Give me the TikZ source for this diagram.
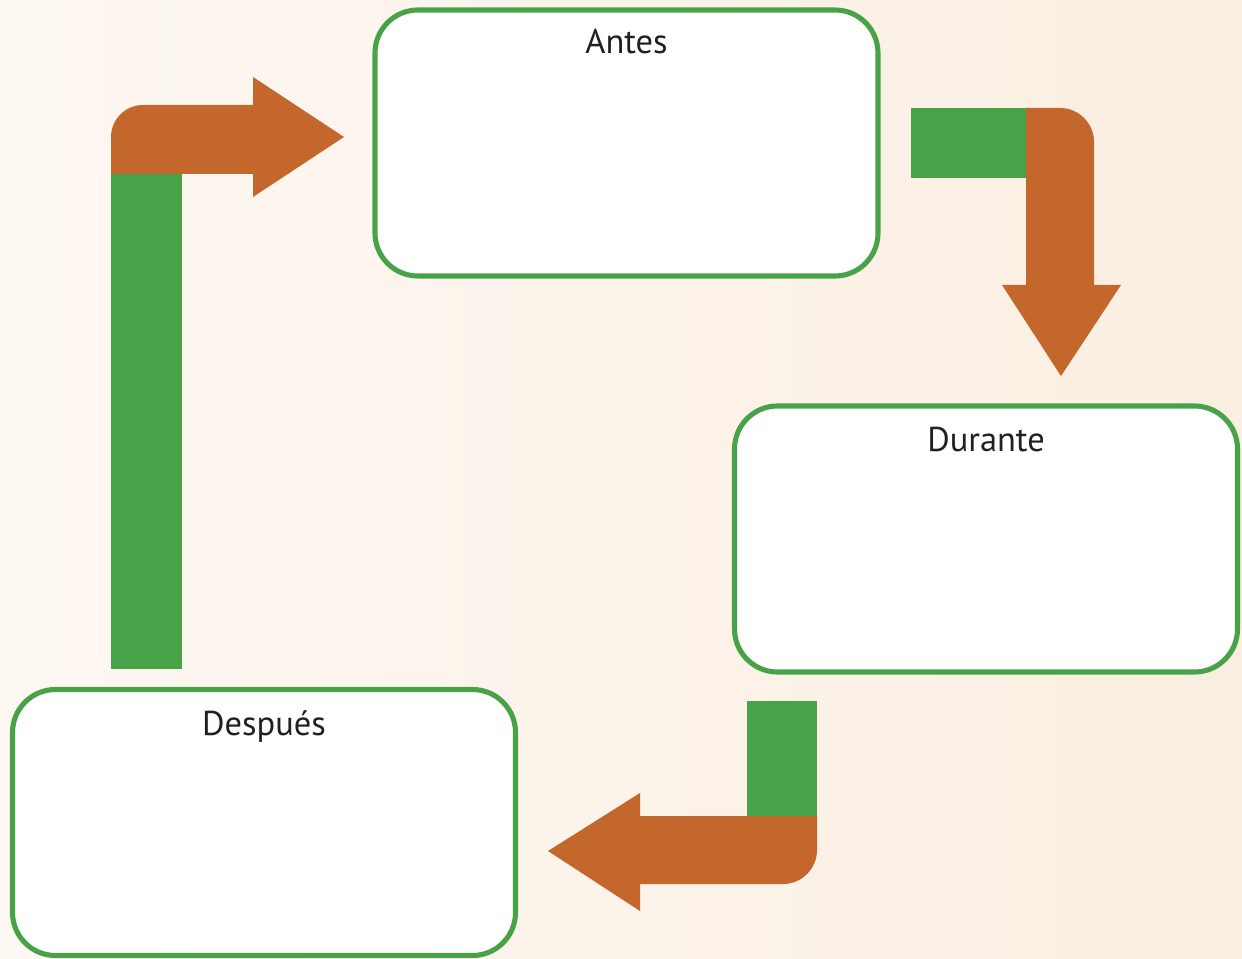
\documentclass[tikz,border=0pt]{standalone}
\usepackage{fontspec}
\setmainfont{PT Sans}
\usepackage{tikz}
\usetikzlibrary{positioning,calc}
\definecolor{boxgreen}{HTML}{48A248}
\definecolor{arroworange}{HTML}{C4672D}
\definecolor{bgleft}{HTML}{FEF8F3}
\definecolor{bgright}{HTML}{FAEEE1}
\definecolor{textgray}{HTML}{231F20}
\tikzset{stagebox/.style={draw=boxgreen, line width=1.45pt, fill=white, rounded corners=0.43cm, minimum width=5.03cm, minimum height=2.66cm, inner sep=0pt}, stagetitle/.style={inner sep=0pt, text=textgray, font=\fontsize{9.8}{11}\selectfont}, tail/.style={fill=boxgreen}, head/.style={fill=arroworange}}

\begin{document}
\begin{tikzpicture}
\shade[left color=bgleft, right color=bgright] (0,0) rectangle (12.42,9.58);
\useasboundingbox (0,0) rectangle (12.42,9.58);
\node[stagebox] (antes) at (6.265,8.15) {};
\node[stagebox] (durante) at (9.86,4.19) {};
\node[stagebox] (despues) at (2.64,1.355) {};
\node[stagetitle, below=0.21 of antes.north] (tantes) {Antes};
\node[stagetitle, below=0.23 of durante.north] (tdurante) {Durante};
\node[stagetitle, below=0.23 of despues.north] (tdespues) {Después};
% despues -> antes
\fill[tail] (1.11,2.89) rectangle (1.82,7.84);
\fill[head] (1.11,7.84) -- (1.11,8.21) arc[start angle=180, end angle=90, radius=0.32] -- (2.53,8.53) -- (2.53,8.81) -- (3.44,8.21) -- (2.53,7.61) -- (2.53,7.84) -- cycle;
% antes -> durante
\fill[tail] (9.11,7.80) rectangle (10.26,8.50);
\fill[head] (10.26,8.50) -- (10.60,8.50) arc[start angle=90, end angle=0, radius=0.34] -- (10.94,6.73) -- (11.21,6.73) -- (10.61,5.82) -- (10.02,6.73) -- (10.26,6.73) -- cycle;
% durante -> despues
\fill[tail] (7.47,1.42) rectangle (8.17,2.57);
\fill[head] (8.17,1.42) -- (8.17,1.08) arc[start angle=0, end angle=-90, radius=0.34] -- (6.40,0.74) -- (6.40,0.47) -- (5.48,1.07) -- (6.40,1.65) -- (6.40,1.42) -- cycle;
\end{tikzpicture}
\end{document}
